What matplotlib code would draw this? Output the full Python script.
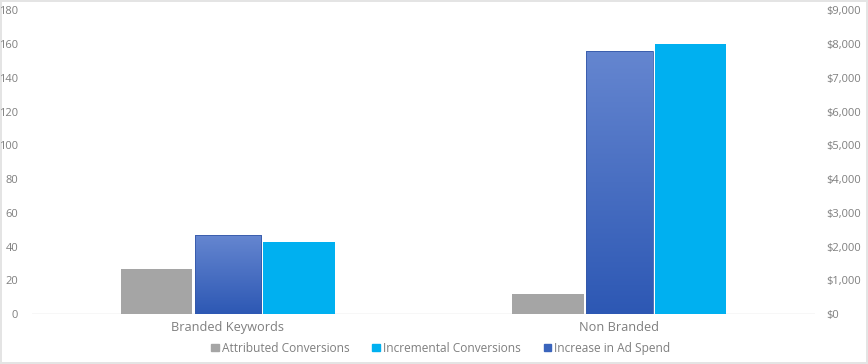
import numpy as np
import matplotlib
matplotlib.use("Agg")
import matplotlib.pyplot as plt
from matplotlib.colors import LinearSegmentedColormap
from matplotlib.patches import Patch
from matplotlib.ticker import FuncFormatter

categories = ["Branded Keywords", "Non Branded"]
attributed = [27, 12]
incremental = [43, 160]
ad_spend = [2330, 7800]

GRAY = "#a5a5a5"
CYAN = "#00b0f0"
BLUE = "#3a64bc"
TXT = "#7f7f7f"

plt.rcParams["font.family"] = ["Open Sans", "DejaVu Sans"]

fig = plt.figure(figsize=(8.68, 3.64), dpi=100)
fig.patch.set_edgecolor("#e4e4e4")
fig.patch.set_linewidth(1.5)
ax = fig.add_axes([0.037, 0.137, 0.902, 0.835])
ax2 = ax.twinx()

x = np.arange(len(categories))
w = 0.183
step = 0.182

ax.bar(x - step, attributed, w, color=GRAY, zorder=2)
ax.bar(x + step, incremental, w, color=CYAN, zorder=2)
blue_bars = ax2.bar(x, ad_spend, 0.17, color="none", edgecolor="#3558a8", linewidth=0.6, zorder=3)

# gradient fill for the ad-spend bars
cmap = LinearSegmentedColormap.from_list("blu", ["#2d58b4", "#6586d0"])
grad = np.linspace(0, 1, 256).reshape(-1, 1)
for b in blue_bars:
    x0, h = b.get_x(), b.get_height()
    im = ax2.imshow(grad, cmap=cmap, origin="lower", aspect="auto",
                    extent=[x0, x0 + b.get_width(), 0, h], zorder=2)
    im.set_clip_path(b)

ax.set_xlim(-0.5, 1.5)
ax.set_ylim(0, 180)
ax2.set_ylim(0, 9000)
ax.set_yticks(range(0, 181, 20))
ax2.set_yticks(range(0, 9001, 1000))
ax2.yaxis.set_major_formatter(FuncFormatter(lambda v, p: f"${v:,.0f}"))
ax.set_xticks(x)
ax.set_xticklabels(categories)

for a in (ax, ax2):
    for s in a.spines.values():
        s.set_visible(False)
    a.tick_params(length=0, labelsize=8, labelcolor=TXT)
ax.tick_params(axis="y", pad=10)
ax2.tick_params(axis="y", pad=8)
ax.tick_params(axis="x", pad=5, labelsize=9.2)
ax.axhline(0, color="#d9d9d9", linewidth=1, zorder=1)

handles = [Patch(color=GRAY, label="Attributed Conversions"),
           Patch(color=CYAN, label="Incremental Conversions"),
           Patch(color=BLUE, label="Increase in Ad Spend")]
fig.legend(handles=handles, loc="center", bbox_to_anchor=(0.508, 0.043), ncol=3,
           frameon=False, fontsize=8.6, labelcolor=TXT, handlelength=0.6,
           handleheight=0.6, handletextpad=0.3, columnspacing=1.9)

fig.savefig("out.png", dpi=100)
